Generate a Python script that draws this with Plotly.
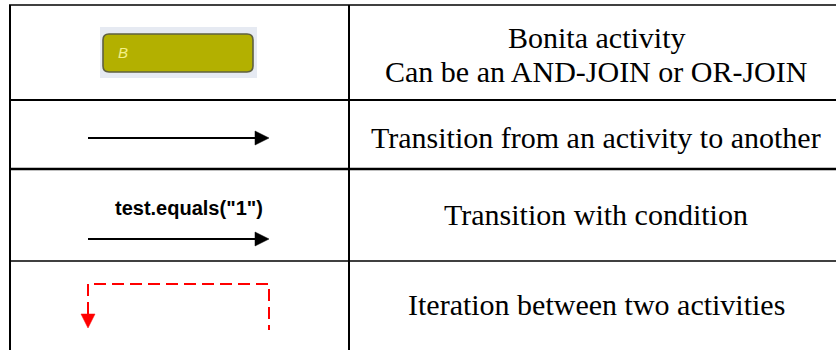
import plotly.graph_objects as go

# ---- table content ----
descriptions = [
    "Bonita activity",
    "Can be an AND-JOIN or OR-JOIN",
    "Transition from an activity to another",
    "Transition with condition",
    "Iteration between two activities",
]
desc_y = [37, 71, 137, 214, 304]
condition_label = 'test.equals("1")'
activity_label = "B"

# ---- table geometry (pixel space of the 836x350 canvas) ----
row_lines = [5, 100, 169, 261]
row_widths = [1.6, 2.2, 2.6, 1.6]
col_lines = [10, 349]
W, H = 836, 350

fig = go.Figure()
fig.add_trace(go.Scatter(x=[0, W], y=[0, H], mode="markers", marker=dict(opacity=0), hoverinfo="skip", showlegend=False))

shapes = []
for y, w in zip(row_lines, row_widths):
    shapes.append(dict(type="line", x0=col_lines[0] - 1, x1=W + 5, y0=y, y1=y, line=dict(color="black", width=w)))
for x in col_lines:
    shapes.append(dict(type="line", x0=x, x1=x, y0=row_lines[0], y1=H + 5, line=dict(color="black", width=2)))

# activity box: light background + olive rounded rectangle
shapes.append(dict(type="rect", x0=100, x1=257, y0=27, y1=78, line=dict(width=0), fillcolor="#e6eaf2"))
x0, x1, y0, y1, r = 103, 253, 34, 72, 6
path = (f"M {x0+r},{y0} L {x1-r},{y0} Q {x1},{y0} {x1},{y0+r} L {x1},{y1-r} Q {x1},{y1} {x1-r},{y1} "
        f"L {x0+r},{y1} Q {x0},{y1} {x0},{y1-r} L {x0},{y0+r} Q {x0},{y0} {x0+r},{y0} Z")
shapes.append(dict(type="path", path=path, fillcolor="#b3b000", line=dict(color="#5f6040", width=1.6)))

# black arrows
for ay in [138, 239]:
    shapes.append(dict(type="line", x0=88, x1=256, y0=ay, y1=ay, line=dict(color="black", width=2)))
    shapes.append(dict(type="path", path=f"M 255,{ay-7} L 269,{ay} L 255,{ay+7} Z", fillcolor="black", line=dict(color="black", width=0.5)))

# red dashed iteration arrow
red = "#ff0000"
shapes.append(dict(type="path", path="M 88,314 L 88,284 L 269,284 L 269,330",
                   line=dict(color=red, width=2, dash="12px,6px")))
shapes.append(dict(type="path", path="M 81,314 L 95,314 L 88,328 Z", fillcolor=red, line=dict(color=red, width=0.5)))

annotations = []
for t, y in zip(descriptions, desc_y):
    annotations.append(dict(x=596, y=y, xref="x", yref="y", text=t, showarrow=False,
                            font=dict(family="Liberation Serif", size=30, color="black"),
                            xanchor="center", yanchor="middle"))
annotations.append(dict(x=189, y=208, xref="x", yref="y", text=f"<b>{condition_label}</b>", showarrow=False,
                        font=dict(family="Liberation Sans", size=20, color="black"),
                        xanchor="center", yanchor="middle"))
annotations.append(dict(x=123, y=52, xref="x", yref="y", text=f"<i>{activity_label}</i>", showarrow=False,
                        font=dict(family="Liberation Sans", size=15, color="#f4f08a"),
                        xanchor="center", yanchor="middle"))

fig.update_layout(
    width=W, height=H,
    margin=dict(l=0, r=0, t=0, b=0),
    paper_bgcolor="white", plot_bgcolor="white",
    xaxis=dict(range=[0, W], visible=False, fixedrange=True),
    yaxis=dict(range=[H, 0], visible=False, fixedrange=True),
    shapes=shapes, annotations=annotations,
    showlegend=False,
)
fig.write_html("out.html", config={"displayModeBar": False},
               post_script="document.body.style.margin='0';document.body.style.overflow='hidden';")
